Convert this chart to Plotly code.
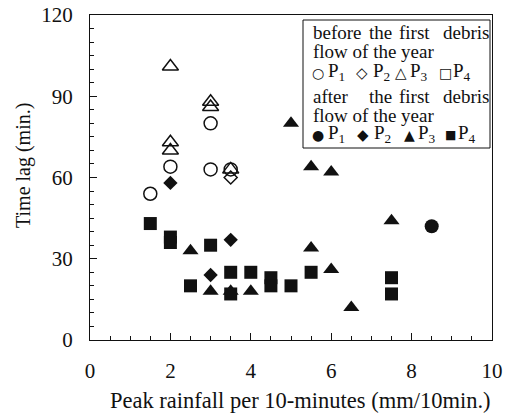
import plotly.graph_objects as go

# ---- data ----
before_p1_x = [1.5, 2.0, 3.0, 3.0, 3.5]
before_p1_y = [54, 64, 80, 63, 63]
before_p2_x = [3.5]
before_p2_y = [60]
before_p3_x = [2.0, 3.0, 3.0, 2.0, 2.0, 3.5]
before_p3_y = [101, 88, 86, 73, 70, 63]
before_p4_x = []
before_p4_y = []

after_p1_x = [8.5]
after_p1_y = [42]
after_p2_x = [2.0, 3.5, 3.0]
after_p2_y = [58, 37, 24]
after_p3_x = [5.0, 5.5, 6.0, 7.5, 5.5, 6.0, 6.5, 2.5, 3.0, 3.5, 4.0]
after_p3_y = [80, 64, 62, 44, 34, 26, 12, 33, 18, 18, 18]
after_p4_x = [1.5, 2.0, 2.0, 3.0, 2.5, 3.5, 3.5, 4.0, 4.5, 4.5, 5.0, 5.5, 7.5, 7.5]
after_p4_y = [43, 38, 36, 35, 20, 25, 17, 25, 23, 20, 20, 25, 23, 17]

x_ticks = [0, 2, 4, 6, 8, 10]
y_ticks = [0, 30, 60, 90, 120]

FONT = "Liberation Serif, Times New Roman, serif"
INK = "#111111"

fig = go.Figure()

def add(xs, ys, symbol, size, filled):
    fig.add_trace(go.Scatter(
        x=xs, y=ys, mode="markers", showlegend=False, cliponaxis=False,
        hoverinfo="skip",
        marker=dict(symbol=symbol, size=size,
                    color=INK if filled else "rgba(0,0,0,0)",
                    line=dict(color=INK, width=0 if filled else 1.5))))

add(before_p1_x, before_p1_y, "circle", 13, False)
add(before_p2_x, before_p2_y, "diamond", 10, False)
add(before_p3_x, before_p3_y, "triangle-up", 14, False)
add(before_p4_x, before_p4_y, "square", 12, False)
add(after_p1_x, after_p1_y, "circle", 14, True)
add(after_p2_x, after_p2_y, "diamond", 11, True)
add(after_p3_x, after_p3_y, "triangle-up", 14, True)
add(after_p4_x, after_p4_y, "square", 13, True)

# plot area in pixels
L, R, T, B = 90, 492, 15, 340
W, H = 511, 420

def px(xp):
    return (xp - L) / (R - L)

def py(yp):
    return (B - yp) / (B - T)

ann = []
def txt(x, y, s, size=19, xanchor="left"):
    ann.append(dict(x=px(x), y=py(y), xref="paper", yref="paper", text=s,
                    showarrow=False, xanchor=xanchor, yanchor="middle",
                    font=dict(family=FONT, size=size, color=INK)))

# legend text
for yline, first in [(33, "before"), (96, "after")]:
    txt(311, yline, first)
    txt(367, yline, "the")
    txt(397, yline, "first")
    txt(491, yline, "debris", xanchor="right")
    txt(311, yline + 19, "flow of the year")

GL = "DejaVu Sans, sans-serif"
def sym(x, y, s, size=13):
    ann.append(dict(x=px(x), y=py(y), xref="paper", yref="paper", text=s,
                    showarrow=False, xanchor="center", yanchor="middle",
                    font=dict(family=GL, size=size, color=INK)))

y3 = 72
sym(318, y3 + 1, "○", 14); txt(326, y3, "P<sub>1</sub>")
sym(362, y3 + 1, "◇", 15); txt(371, y3, "P<sub>2</sub>")
sym(401, y3 + 1, "△", 15); txt(408, y3, "P<sub>3</sub>")
sym(445, y3 + 1, "□", 14); txt(451, y3, "P<sub>4</sub>")
y6 = 134
sym(318, y6 + 1, "●", 14); txt(326, y6, "P<sub>1</sub>")
sym(363, y6 + 1, "◆", 15); txt(372, y6, "P<sub>2</sub>")
sym(409, y6 + 1, "▲", 14); txt(416, y6, "P<sub>3</sub>")
sym(450, y6 + 1, "■", 12); txt(456, y6, "P<sub>4</sub>")

# y axis title
ann.append(dict(x=px(23), y=py(166), xref="paper", yref="paper",
                text="Time lag (min.)", textangle=-90, showarrow=False,
                xanchor="center", yanchor="middle",
                font=dict(family=FONT, size=20, color=INK)))

# x axis title
ann.append(dict(x=px(300), y=py(400), xref="paper", yref="paper",
                text="Peak rainfall per 10-minutes (mm/10min.)", showarrow=False,
                xanchor="center", yanchor="middle",
                font=dict(family=FONT, size=22.5, color=INK)))

shapes = [dict(type="rect", xref="paper", yref="paper",
               x0=px(303), x1=px(490), y0=py(148), y1=py(20),
               line=dict(color=INK, width=1), fillcolor="white", layer="below")]

axis_common = dict(showgrid=False, zeroline=False, showline=True, linecolor=INK,
                   linewidth=1, mirror=True, ticks="inside", ticklen=7,
                   tickcolor=INK, tickwidth=1, automargin=False,
                   tickfont=dict(family=FONT, size=21, color=INK))

fig.update_layout(
    width=W, height=H, margin=dict(l=L, r=W - R, t=T, b=H - B),
    paper_bgcolor="white", plot_bgcolor="white", hovermode=False,
    xaxis=dict(range=[0, 10], tickvals=x_ticks, ticklabelstandoff=12,
               minor=dict(dtick=0.5, tick0=0, ticks="inside", ticklen=4,
                          tickcolor=INK, showgrid=False),
               **axis_common),
    yaxis=dict(range=[0, 120], tickvals=y_ticks, ticklabelstandoff=12,
               minor=dict(dtick=5, tick0=0, ticks="inside", ticklen=4,
                          tickcolor=INK, showgrid=False),
               **axis_common),
    annotations=ann, shapes=shapes,
)

fig.write_html("out.html", config={"displayModeBar": False, "staticPlot": True})

# remove the browser's default page margin so the figure sits at the top-left
with open("out.html", "r", encoding="utf-8") as f:
    html = f.read()
html = html.replace("<head>", "<head><style>html,body{margin:0;padding:0;overflow:hidden}</style>", 1)
with open("out.html", "w", encoding="utf-8") as f:
    f.write(html)
